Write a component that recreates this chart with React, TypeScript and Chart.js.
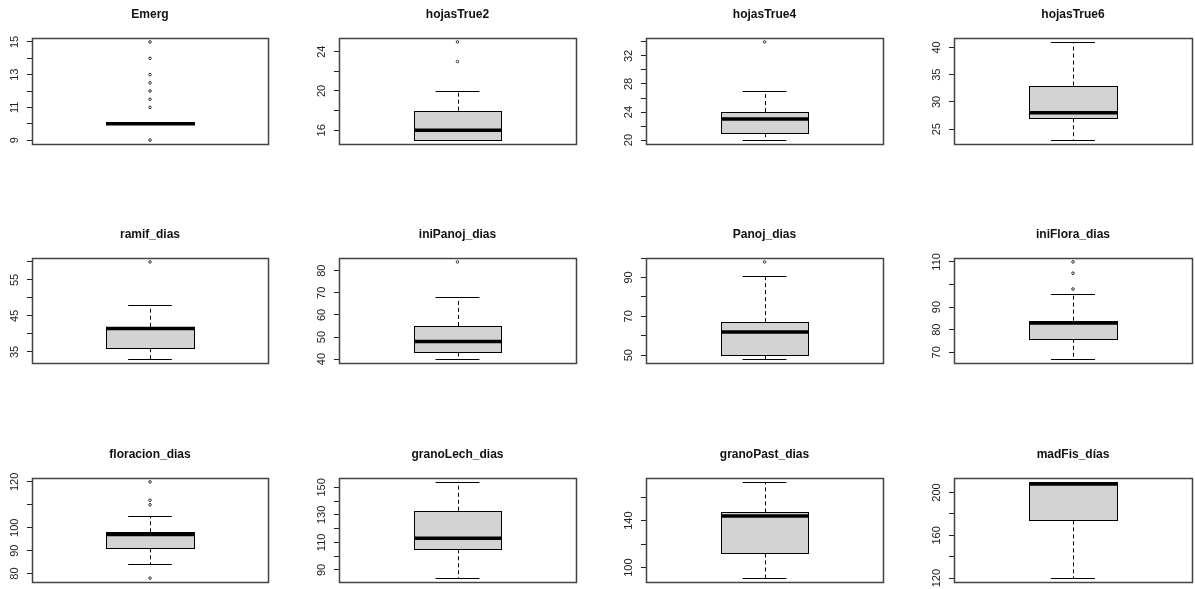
import React, { useEffect, useRef } from "react";
import { Chart, registerables } from "chart.js";

Chart.register(...registerables);

// One panel per variable, filled row by row (4 per row)
const variables = [
  "Emerg", "hojasTrue2", "hojasTrue4", "hojasTrue6",
  "ramif_dias", "iniPanoj_dias", "Panoj_dias", "iniFlora_dias",
  "floracion_dias", "granoLech_dias", "granoPast_dias", "madFis_días",
];

// Box-plot statistics: whisker ends, hinges and median
const whiskerLow = [10, 15, 20, 23, 33, 40, 48, 67, 84, 84, 91, 120];
const hingeLow = [10, 15, 21, 27, 36, 43, 50, 76, 91, 105, 112, 174];
const medians = [10, 16, 23, 28, 41.5, 48, 62, 83, 97, 113, 144, 208];
const hingeHigh = [10, 18, 24, 33, 42, 55, 67, 84, 98, 133, 147, 210];
const whiskerHigh = [10, 20, 27, 41, 48, 68, 91, 96, 105, 154, 173, 210];

// Observations beyond the whiskers
const outliers = [
  [9, 11, 11.5, 12, 12.5, 13, 14, 15], [23, 25], [34], [],
  [60], [84], [98], [98, 105, 110],
  [78, 110, 112, 120], [], [], [],
];

// Tick spacing per panel, and the ticks that carry a label
const tickSteps = [1, 2, 2, 5, 5, 10, 10, 10, 10, 10, 20, 20];
const tickLabels = [
  [9, 11, 13, 15], [16, 20, 24], [20, 24, 28, 32], [25, 30, 35, 40],
  [35, 45, 55], [40, 50, 60, 70, 80], [50, 70, 90], [70, 80, 90, 110],
  [80, 90, 100, 120], [90, 110, 130, 150], [100, 140], [120, 160, 200],
];

// Page geometry of the plot regions
const COL_LEFT = [32, 339, 646, 954];
const COL_RIGHT = [268, 576, 883, 1192];
const ROW_TOP = [38, 258, 478];
const ROW_BOTTOM = [144, 363, 582];
const AXIS_W = 32;
const PAD_RIGHT = 8;
const PAD_TOP = 38;
const PAD_BOTTOM = 8;

const FONT = '"Liberation Sans", Arial, Helvetica, sans-serif';
const TICK_FONT_SIZE = 11;
const TICK_LEN = 5;
const LABEL_OFFSET = 17; // distance from plot edge to tick label centre

// x runs over R's default single-box window: 0.5..1.5 with 4% extension
const X_MIN = 0.46;
const X_MAX = 1.54;
const BOX_HALF = 0.2;
const STAPLE_HALF = 0.1;

const crisp = (v: number) => Math.round(v) + 0.5;

const boxPlotPlugin = {
  id: "rBoxPlot",
  beforeDatasetsDraw(chart: any, _args: any, opts: any) {
    const { ctx } = chart;
    const xs = chart.scales.x;
    const ys = chart.scales.y;
    const { lo, q1, med, q3, hi } = opts;
    const py = (v: number) => ys.getPixelForValue(v);
    const cx = crisp(xs.getPixelForValue(1));
    const bl = xs.getPixelForValue(1 - BOX_HALF);
    const br = xs.getPixelForValue(1 + BOX_HALF);
    const sl = xs.getPixelForValue(1 - STAPLE_HALF);
    const sr = xs.getPixelForValue(1 + STAPLE_HALF);

    const seg = (x1: number, y1: number, x2: number, y2: number) => {
      ctx.beginPath();
      ctx.moveTo(x1, y1);
      ctx.lineTo(x2, y2);
      ctx.stroke();
    };

    ctx.save();
    ctx.strokeStyle = "#000";
    ctx.lineWidth = 1;

    // dashed whiskers
    ctx.setLineDash([4, 3]);
    if (hi > q3) seg(cx, py(q3), cx, py(hi));
    if (lo < q1) seg(cx, py(q1), cx, py(lo));
    ctx.setLineDash([]);

    // staples
    seg(sl, crisp(py(hi)), sr, crisp(py(hi)));
    seg(sl, crisp(py(lo)), sr, crisp(py(lo)));

    // box
    const top = crisp(py(q3));
    const bottom = crisp(py(q1));
    const left = crisp(bl);
    const right = crisp(br);
    ctx.fillStyle = "#d3d3d3";
    ctx.fillRect(left, top, right - left, bottom - top);
    ctx.strokeRect(left, top, right - left, bottom - top);

    // median
    ctx.lineWidth = 3.5;
    ctx.lineCap = "butt";
    seg(left - 0.5, py(med), right + 0.5, py(med));
    ctx.restore();
  },
  afterDraw(chart: any) {
    const { ctx, chartArea: a } = chart;
    ctx.save();
    ctx.strokeStyle = "#444";
    ctx.lineWidth = 1.5;
    ctx.strokeRect(crisp(a.left), crisp(a.top), Math.round(a.right - a.left), Math.round(a.bottom - a.top));
    ctx.restore();
  },
};

function measureWidest(labels: number[]) {
  const c = document.createElement("canvas").getContext("2d");
  if (!c) return 0;
  c.font = `${TICK_FONT_SIZE}px ${FONT}`;
  return Math.max(...labels.map((v) => c.measureText(String(v)).width));
}

function Panel({ index }: { index: number }) {
  const ref = useRef<HTMLCanvasElement | null>(null);
  const col = index % 4;
  const row = Math.floor(index / 4);
  const plotW = COL_RIGHT[col] - COL_LEFT[col];
  const plotH = ROW_BOTTOM[row] - ROW_TOP[row];
  const width = plotW + AXIS_W + PAD_RIGHT;
  const height = plotH + PAD_TOP + PAD_BOTTOM;

  useEffect(() => {
    const canvas = ref.current;
    if (!canvas) return;
    const pts = outliers[index];
    const dataMin = Math.min(whiskerLow[index], ...pts);
    const dataMax = Math.max(whiskerHigh[index], ...pts);
    const ext = (dataMax - dataMin) * 0.04;
    const yMin = dataMin - ext;
    const yMax = dataMax + ext;
    const step = tickSteps[index];
    const labels = tickLabels[index];
    const widest = measureWidest(labels);
    const tickPadding = LABEL_OFFSET - TICK_LEN - widest / 2;

    const chart = new Chart(canvas, {
      type: "scatter",
      data: {
        datasets: [
          {
            data: pts.map((v) => ({ x: 1, y: v })),
            pointRadius: 1.3,
            pointBorderWidth: 1,
            pointBorderColor: "#333",
            pointBackgroundColor: "rgba(0,0,0,0)",
            pointHoverRadius: 1.3,
          },
        ],
      },
      options: {
        responsive: false,
        animation: false,
        events: [],
        layout: { padding: { left: 0, right: PAD_RIGHT, top: 0, bottom: PAD_BOTTOM } },
        plugins: {
          legend: { display: false },
          tooltip: { enabled: false },
          title: {
            display: true,
            fullSize: false,
            text: variables[index],
            color: "#111",
            font: { family: FONT, size: 12, weight: "bold", lineHeight: 1.2 },
            padding: { top: 7.6, bottom: PAD_TOP - 7.6 - 14.4 },
          },
          rBoxPlot: {
            lo: whiskerLow[index],
            q1: hingeLow[index],
            med: medians[index],
            q3: hingeHigh[index],
            hi: whiskerHigh[index],
          },
        } as any,
        scales: {
          x: { type: "linear", min: X_MIN, max: X_MAX, display: false },
          y: {
            type: "linear",
            min: yMin,
            max: yMax,
            afterBuildTicks: (scale: any) => {
              const ticks = [];
              for (let v = Math.ceil((yMin - 1e-9) / step) * step; v <= yMax + 1e-9; v += step) {
                ticks.push({ value: Math.round(v * 1000) / 1000 });
              }
              scale.ticks = ticks;
            },
            afterFit: (scale: any) => {
              scale.width = AXIS_W;
              scale.paddingTop = 0;
              scale.paddingBottom = 0;
              scale.paddingLeft = 0;
              scale.paddingRight = 0;
            },
            border: { display: false },
            grid: {
              drawOnChartArea: false,
              drawTicks: true,
              tickLength: TICK_LEN,
              tickColor: "#222",
              lineWidth: 1,
            },
            ticks: {
              autoSkip: false,
              minRotation: 90,
              maxRotation: 90,
              crossAlign: "center",
              padding: tickPadding,
              color: "#222",
              font: { family: FONT, size: TICK_FONT_SIZE },
              callback: (v: any) => (labels.includes(Number(v)) ? String(v) : ""),
            },
          },
        },
      },
      plugins: [boxPlotPlugin],
    } as any);
    return () => chart.destroy();
  }, [index]);

  return (
    <canvas
      ref={ref}
      width={width}
      height={height}
      style={{
        position: "absolute",
        left: COL_LEFT[col] - AXIS_W,
        top: ROW_TOP[row] - PAD_TOP,
        width,
        height,
      }}
    />
  );
}

export default function App() {
  return (
    <div
      style={{
        position: "fixed",
        left: 0,
        top: 0,
        width: 1195,
        height: 589,
        overflow: "hidden",
        background: "#fff",
      }}
    >
      {variables.map((name, i) => (
        <Panel key={name} index={i} />
      ))}
    </div>
  );
}
